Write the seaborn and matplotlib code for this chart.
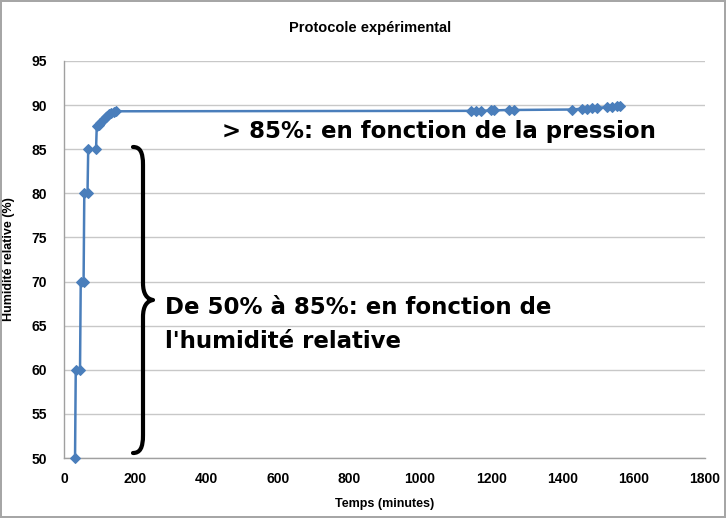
import matplotlib

matplotlib.use("Agg")
import matplotlib.pyplot as plt
import pandas as pd
import seaborn as sns
from matplotlib.patches import PathPatch
from matplotlib.path import Path

# Data
temps = [31, 33, 45, 47, 55, 57, 66, 68, 90, 92, 97, 102, 107, 112, 117, 122,
         127, 133, 140, 147, 1142, 1156, 1170, 1198, 1207, 1249, 1263, 1427,
         1455, 1469, 1483, 1497, 1525, 1539, 1553, 1562]
humidite = [50, 60, 60, 70, 70, 80, 80, 85, 85, 87.6, 87.8, 88.0, 88.2, 88.4,
            88.6, 88.8, 89.0, 89.1, 89.2, 89.3, 89.35, 89.35, 89.35, 89.4,
            89.4, 89.45, 89.45, 89.5, 89.6, 89.6, 89.65, 89.7, 89.75, 89.8,
            89.85, 89.85]
x_ticks = list(range(0, 2000, 200))
y_ticks = list(range(50, 100, 5))

title = "Protocole expérimental"
x_label = "Temps (minutes)"
y_label = "Humidité relative (%)"
note_top = "> 85%: en fonction de la pression"
note_mid_1 = "De 50% à 85%: en fonction de"
note_mid_2 = "l'humidité relative"

df = pd.DataFrame({"Temps": temps, "Humidite": humidite})

sns.set_style("white")
plt.rcParams["font.family"] = ["Liberation Sans", "DejaVu Sans"]
plt.rcParams["text.color"] = "black"
plt.rcParams["axes.labelcolor"] = "black"
plt.rcParams["xtick.color"] = "black"
plt.rcParams["ytick.color"] = "black"

W, H = 726, 518
fig = plt.figure(figsize=(W / 100, H / 100), dpi=100)
fig.patch.set_edgecolor("#a6a6a6")
fig.patch.set_linewidth(1.5)
ax = fig.add_axes([64 / W, 1 - 458 / H, (705 - 64) / W, (458 - 61) / H])

sns.lineplot(
    data=df,
    x="Temps",
    y="Humidite",
    ax=ax,
    sort=False,
    color="#4a7ebb",
    linewidth=1.8,
    marker="D",
    markersize=5.5,
    markeredgecolor="#4a7ebb",
    clip_on=False,
    zorder=3,
)

ax.set_xlim(0, 1800)
ax.set_ylim(50, 95)
ax.set_xticks(x_ticks)
ax.set_yticks(y_ticks)
ax.yaxis.grid(True, color="#c8c8c8", linewidth=1)
ax.xaxis.grid(False)
for side in ["top", "right"]:
    ax.spines[side].set_visible(False)
for side in ["left", "bottom"]:
    ax.spines[side].set_color("#a0a0a0")
    ax.spines[side].set_linewidth(1)
ax.tick_params(axis="y", length=4, color="#a0a0a0", labelcolor="black", pad=8)
ax.tick_params(axis="x", length=0, labelcolor="black", pad=10)
for lab in ax.get_xticklabels() + ax.get_yticklabels():
    lab.set_fontsize(10)
    lab.set_fontweight("bold")

ax.set_xlabel(x_label, fontsize=9, fontweight="bold", labelpad=9)
ax.set_ylabel(y_label, fontsize=9, fontweight="bold", labelpad=12)
fig.text(370 / W, 1 - 28 / H, title, ha="center", va="center",
         fontsize=10.5, fontweight="bold")

# Annotations
fig.text(222 / W, 1 - 132 / H, note_top, ha="left", va="center",
         fontsize=16.5, fontweight="bold", family=["DejaVu Sans"])
fig.text(165 / W, 1 - 308 / H, note_mid_1, ha="left", va="center",
         fontsize=16.5, fontweight="bold", family=["DejaVu Sans"])
fig.text(165 / W, 1 - 342 / H, note_mid_2, ha="left", va="center",
         fontsize=16.5, fontweight="bold", family=["DejaVu Sans"])

# Curly brace
pts = [(133, 147), (140, 147), (143, 152), (143, 165), (143, 283),
       (143, 294), (147, 299), (153, 300), (147, 301), (143, 306),
       (143, 317), (143, 435), (143, 448), (140, 453), (133, 453)]
codes = [Path.MOVETO, Path.CURVE4, Path.CURVE4, Path.CURVE4, Path.LINETO,
         Path.CURVE4, Path.CURVE4, Path.CURVE4, Path.CURVE4, Path.CURVE4,
         Path.CURVE4, Path.LINETO, Path.CURVE4, Path.CURVE4, Path.CURVE4]
verts = [(x / W, 1 - y / H) for x, y in pts]
brace = PathPatch(Path(verts, codes), transform=fig.transFigure,
                  facecolor="none", edgecolor="black", linewidth=3,
                  capstyle="round", joinstyle="round")
fig.patches.append(brace)

fig.savefig("out.png", dpi=100)
